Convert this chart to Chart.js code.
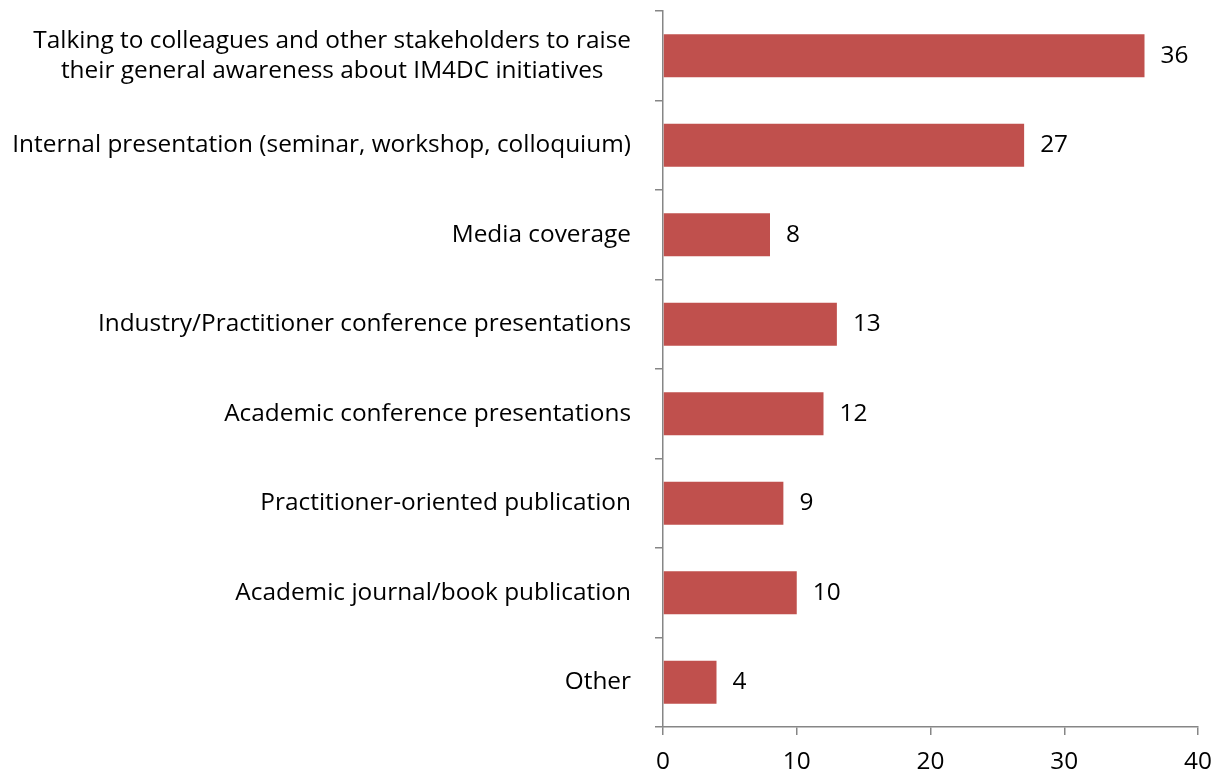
<!DOCTYPE html>
<html>
<head>
<meta charset="utf-8">
<script src="https://cdn.jsdelivr.net/npm/chart.js@4.4.0/dist/chart.umd.min.js"></script>
<style>
html,body{margin:0;padding:0;background:#fff;}
#wrap{width:1220px;height:774px;position:relative;}
</style>
</head>
<body>
<div id="wrap"><canvas id="c" width="1220" height="774"></canvas></div>
<script>
const categories = [
  ["Talking to colleagues and other stakeholders to raise", "their general awareness about IM4DC initiatives"],
  "Internal presentation (seminar, workshop, colloquium)",
  "Media coverage",
  "Industry/Practitioner conference presentations",
  "Academic conference presentations",
  "Practitioner-oriented publication",
  "Academic journal/book publication",
  "Other"
];
const values = [36, 27, 8, 13, 12, 9, 10, 4];
const xTicks = [0, 10, 20, 30, 40];

const FONT = "'Open Sans'";
const FS = 24.4;
const AXIS = "#868686";
const BAR = "#C0504D";

const labelPlugin = {
  id: 'labels',
  afterDraw(chart) {
    const ctx = chart.ctx;
    const y = chart.scales.y;
    const meta = chart.getDatasetMeta(0);
    ctx.save();
    ctx.fillStyle = "#000";
    ctx.font = FS + "px " + FONT;
    ctx.textBaseline = "middle";
    categories.forEach((lab, i) => {
      const lines = Array.isArray(lab) ? lab : [lab];
      const cy = y.getPixelForTick(i);
      const widths = lines.map(l => ctx.measureText(l).width);
      const w = Math.max(...widths);
      const right = 631;
      const cx = right - w / 2;
      const lh = 30;
      ctx.textAlign = "center";
      lines.forEach((l, k) => {
        ctx.fillText(l, cx, cy + (k - (lines.length - 1) / 2) * lh);
      });
    });
    ctx.textAlign = "left";
    meta.data.forEach((bar, i) => {
      ctx.fillText(String(values[i]), bar.x + 16, bar.y);
    });
    ctx.restore();
  }
};

new Chart(document.getElementById('c'), {
  type: 'bar',
  data: {
    labels: categories,
    datasets: [{
      data: values,
      backgroundColor: BAR,
      borderWidth: 0,
      categoryPercentage: 0.48,
      barPercentage: 1.0
    }]
  },
  options: {
    indexAxis: 'y',
    responsive: false,
    animation: false,
    layout: { padding: { top: 11, right: 22, left: 0, bottom: 0 } },
    plugins: { legend: { display: false }, tooltip: { enabled: false } },
    scales: {
      x: {
        min: 0, max: 40,
        afterBuildTicks(scale) { scale.ticks = xTicks.map(v => ({ value: v })); },
        afterFit(scale) { scale.height = 47; scale.paddingRight = 0; scale.paddingLeft = 0; },
        grid: { drawOnChartArea: false, drawTicks: true, tickLength: 8, color: AXIS, lineWidth: 1.5 },
        border: { color: AXIS, width: 1.5 },
        ticks: { font: { family: FONT, size: FS }, color: "#000", padding: 12 }
      },
      y: {
        afterFit(scale) { scale.width = 663; },
        grid: { drawOnChartArea: false, drawTicks: true, tickLength: 8, color: AXIS, lineWidth: 1.5, offset: true },
        border: { color: AXIS, width: 1.5 },
        ticks: { display: false }
      }
    }
  },
  plugins: [labelPlugin]
});
</script>
</body>
</html>
